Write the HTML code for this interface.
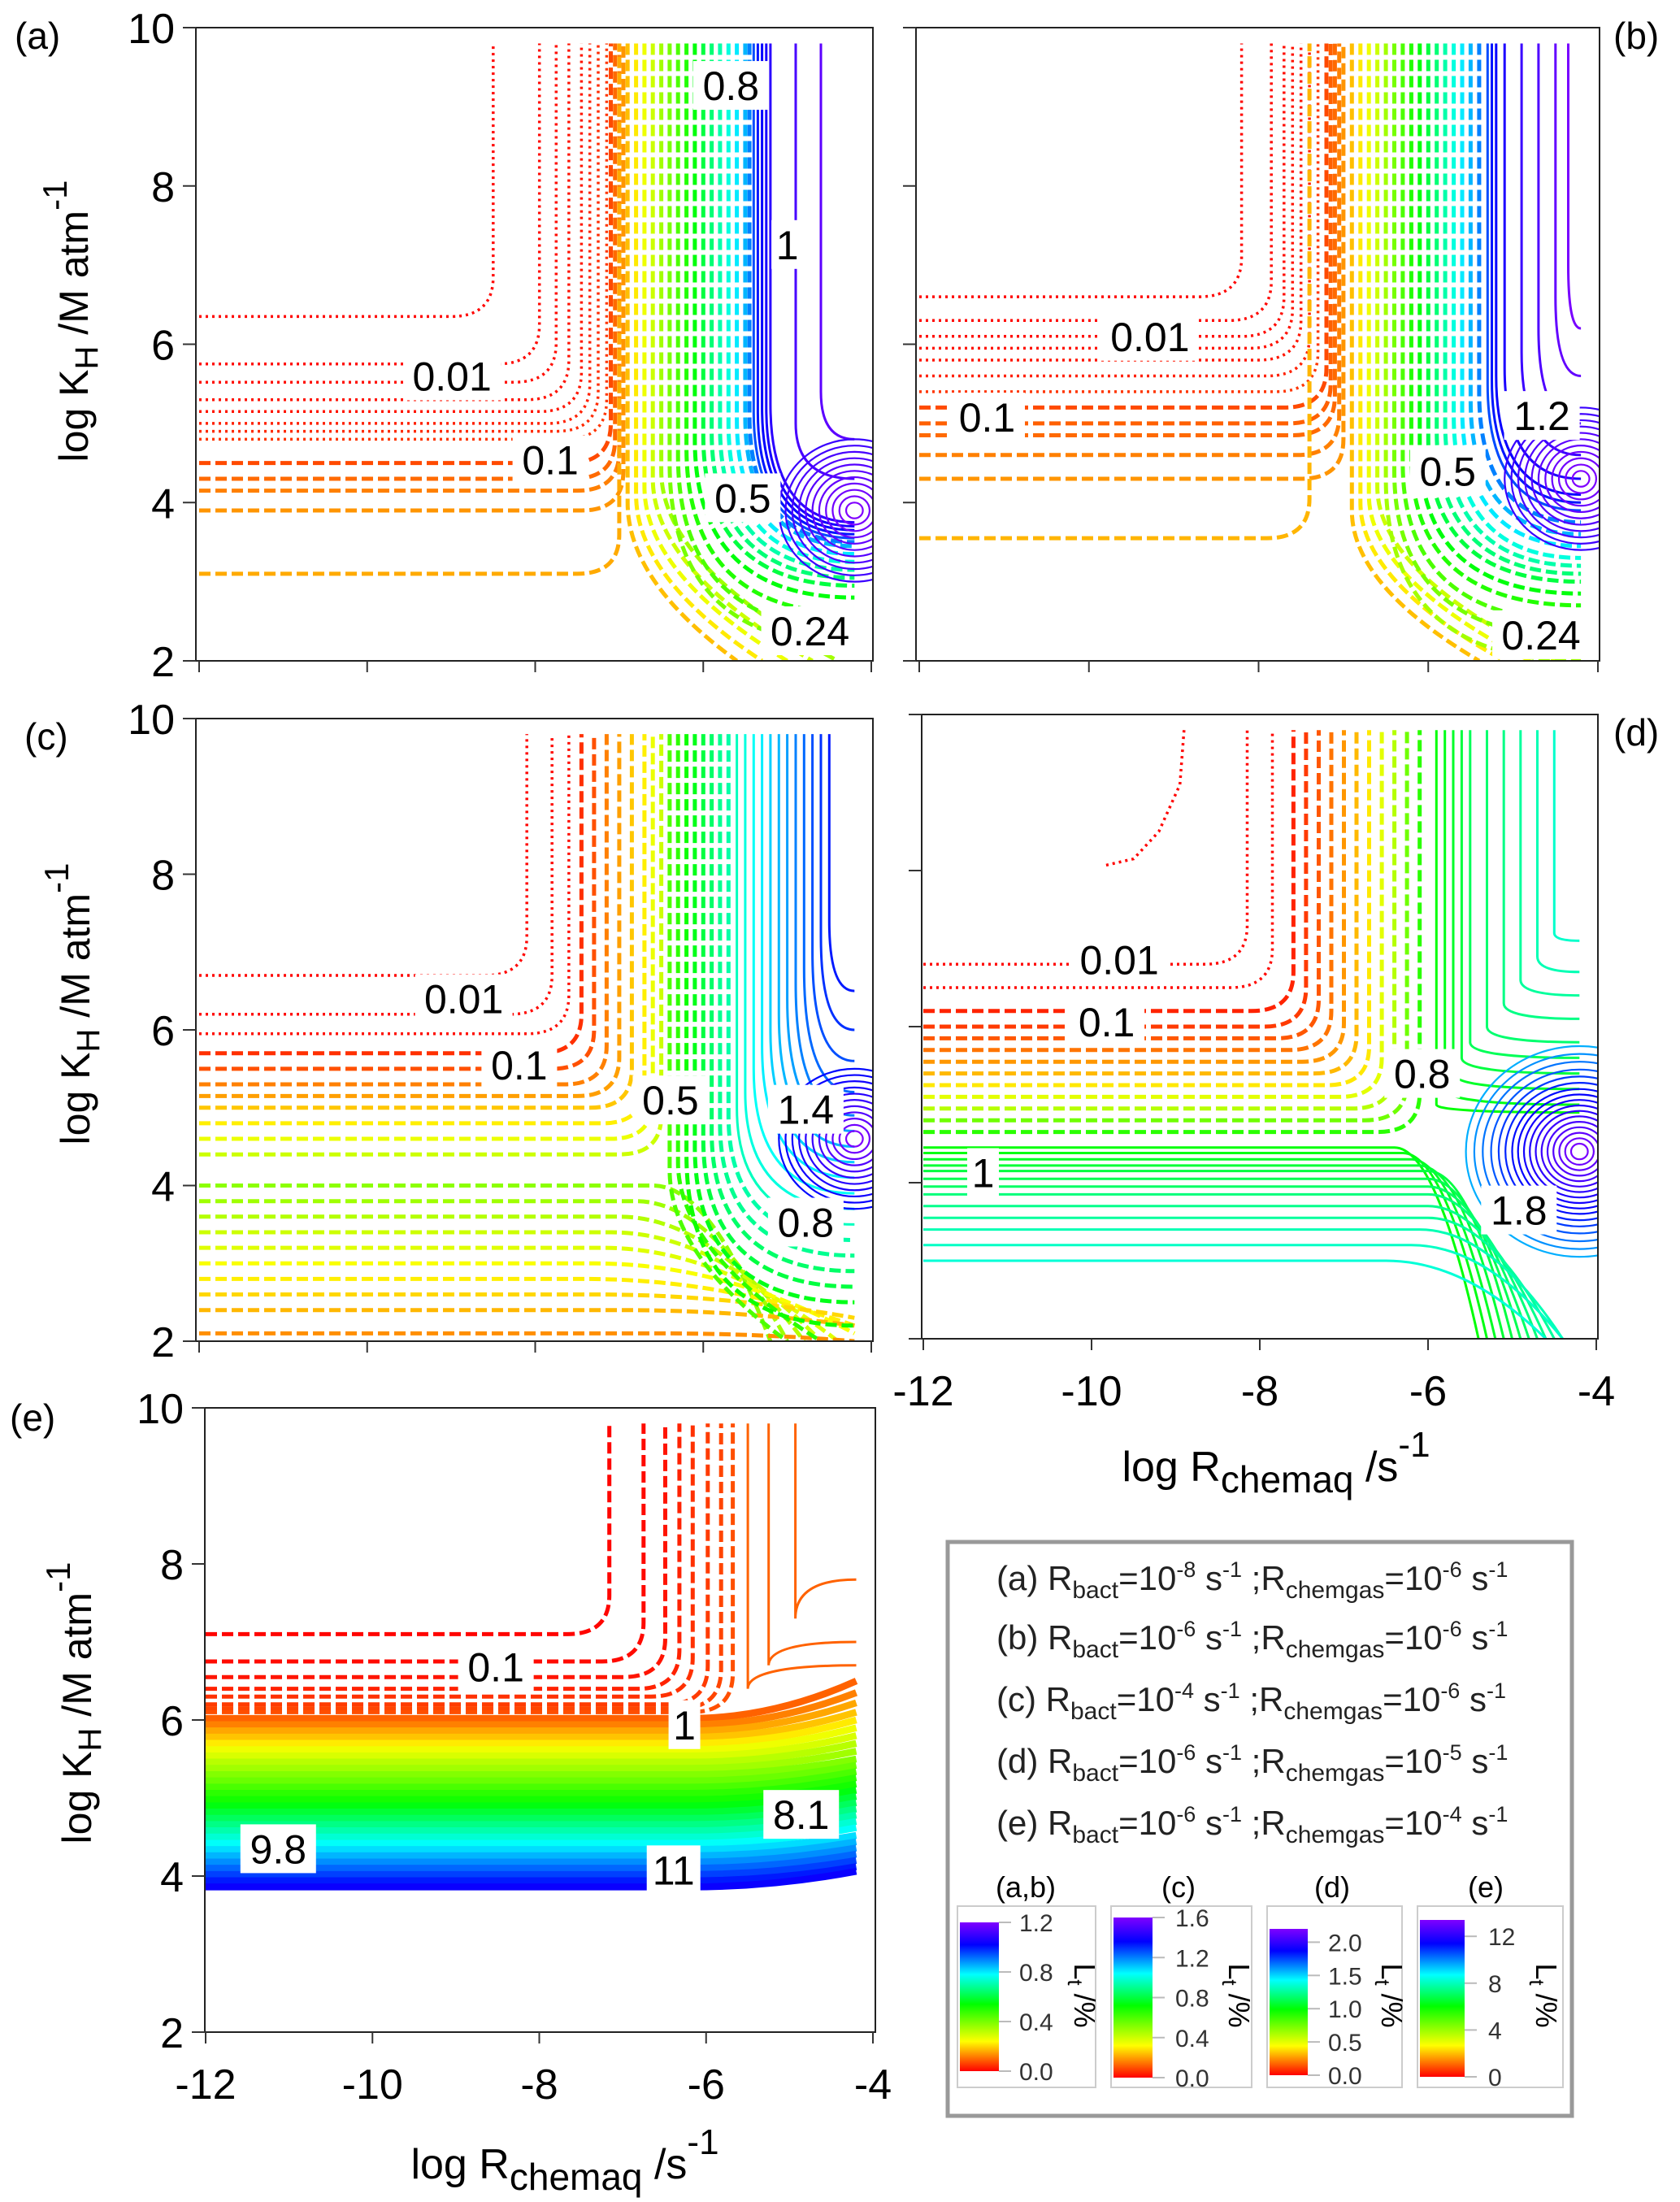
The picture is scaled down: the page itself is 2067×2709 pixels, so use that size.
<!DOCTYPE html>
<html><head><meta charset="utf-8">
<style>
html,body{margin:0;padding:0;background:#fff;}
svg{display:block;font-family:"Liberation Sans",Arial,sans-serif;}
</style></head>
<body>
<svg id="fig" width="2067" height="2709" viewBox="0 0 2067 2709" xmlns="http://www.w3.org/2000/svg">
<defs>
<linearGradient id="cmap" x1="0" y1="1" x2="0" y2="0">
<stop offset="0" stop-color="#ff0000"/><stop offset="0.2" stop-color="#ffff00"/><stop offset="0.45" stop-color="#00ff00"/><stop offset="0.65" stop-color="#00ffff"/><stop offset="0.85" stop-color="#0000ff"/><stop offset="1" stop-color="#8000ff"/>
</linearGradient>
</defs>
</svg>
<script>
// ---------------- data (log units) ----------------
// panel (a)
const aLh=[6.35,5.75,5.52,5.3,5.15,5.0,4.9,4.8,4.5,4.3,4.15,3.9,3.1];
const aLr=[-8.5,-7.95,-7.75,-7.6,-7.45,-7.35,-7.25,-7.15,-7.1,-7.05,-7.0,-6.95,-7.0];
const aLv=[0.003,0.006,0.01,0.015,0.02,0.03,0.04,0.05,0.07,0.1,0.12,0.14,0.16];
const aVx=[-6.9,-6.8,-6.7,-6.6,-6.5,-6.4,-6.3,-6.2,-6.1,-6.0,-5.9,-5.8,-5.7,-5.6,-5.5,-5.45,-5.4,-5.35,-5.3,-5.25,-5.2,-4.9,-4.6];
const aVb=[4.0,4.1,4.2,4.3,4.4,4.5,4.6,4.7,4.8,4.85,4.9,4.95,5.0,5.05,5.1,5.1,5.15,5.15,5.2,5.2,5.25,5.0,5.4];
const aVex=[-5.6,-5.3,-5.0,-4.7,-4.4,-4.2,-4.2,-4.2,-4.2,-4.2,-4.2,-4.2,-4.2,-4.2,-4.2,-4.2,-4.2,-4.2,-4.2,-4.2,-4.2,-4.2,-4.2];
const aVey=[2,2,2,2,2,2.2,2.4,2.6,2.8,2.95,3.05,3.15,3.25,3.35,3.45,3.5,3.55,3.6,3.65,3.7,3.75,4.3,4.8];
const aVv=[0.18,0.22,0.26,0.3,0.35,0.4,0.45,0.5,0.55,0.6,0.65,0.7,0.75,0.8,0.85,0.9,0.95,1.0,1.02,1.05,1.08,1.12,1.15];
const aRr=[0.1,0.18,0.26,0.34,0.42,0.5,0.58,0.66,0.74,0.82,0.9];
const aRv=[1.2,1.19,1.18,1.17,1.16,1.15,1.14,1.13,1.12,1.11,1.1];
const aRc=[-4.2,3.9];
const aLabT=["0.8","1","0.01","0.1","0.5","0.24"];
const aLabX=[-5.67,-5.0,-8.99,-7.82,-5.53,-4.73];
const aLabY=[9.27,7.26,5.6,4.54,4.06,2.38];
// panel (b)
const bLh=[6.6,6.3,6.1,5.95,5.8,5.6,5.4,5.2,5.0,4.85,4.6,4.3,3.55];
const bLr=[-8.2,-7.85,-7.7,-7.6,-7.5,-7.4,-7.3,-7.2,-7.15,-7.1,-7.05,-7.0,-7.4];
const bLv=[0.003,0.006,0.01,0.015,0.02,0.03,0.05,0.07,0.09,0.1,0.12,0.14,0.17];
const bVx=[-6.9,-6.8,-6.7,-6.6,-6.5,-6.4,-6.3,-6.2,-6.1,-6.0,-5.9,-5.8,-5.7,-5.6,-5.5,-5.4,-5.3,-5.25,-5.2,-5.1,-4.9,-4.7,-4.5,-4.35];
const bVb=[3.9,4.0,4.1,4.2,4.3,4.4,4.5,4.6,4.7,4.8,4.9,5.0,5.1,5.2,5.3,5.4,5.5,5.55,5.6,5.7,5.9,6.2,6.6,7.0];
const bVex=[-5.4,-5.1,-4.8,-4.5,-4.2,-4.2,-4.2,-4.2,-4.2,-4.2,-4.2,-4.2,-4.2,-4.2,-4.2,-4.2,-4.2,-4.2,-4.2,-4.2,-4.2,-4.2,-4.2,-4.2];
const bVey=[2,2,2,2,2,2.3,2.5,2.7,2.85,3.0,3.1,3.2,3.3,3.45,3.6,3.75,3.9,4.0,4.1,4.3,4.6,5.0,5.6,6.2];
const bVv=[0.18,0.22,0.26,0.3,0.35,0.4,0.45,0.5,0.55,0.6,0.65,0.7,0.75,0.8,0.85,0.9,0.95,1.0,1.03,1.06,1.1,1.13,1.16,1.19];
const bRr=[0.1,0.18,0.26,0.34,0.42,0.5,0.58,0.66,0.74,0.82,0.9];
const bRv=[1.2,1.19,1.18,1.17,1.16,1.15,1.14,1.13,1.12,1.11,1.1];
const bRc=[-4.2,4.3];
const bLabT=["0.01","0.1","1.2","0.5","0.24"];
const bLabX=[-9.28,-11.2,-4.66,-5.77,-4.67];
const bLabY=[6.1,5.08,5.1,4.4,2.33];
// panel (c)
const cLh=[6.7,6.2,5.95,5.7,5.5,5.3,5.15,5.0,4.8,4.6,4.4];
const cLr=[-8.1,-7.8,-7.6,-7.45,-7.3,-7.15,-7.0,-6.85,-6.7,-6.6,-6.5];
const cLv=[0.003,0.008,0.015,0.06,0.1,0.16,0.2,0.25,0.3,0.35,0.4];
const cHh=[4.0,3.8,3.6,3.4,3.2,3.0,2.8,2.6,2.4,2.1];
const cHr=[-6.6,-6.8,-7.0,-7.1,-7.2,-7.3,-7.4,-7.3,-7.0,-6.5];
const cHex=[-5.2,-5.0,-4.8,-4.6,-4.4,-4.2,-4.2,-4.2,-4.2,-4.2];
const cHey=[2,2,2,2,2,2.1,2.2,2.3,2.2,2.0];
const cHv=[0.5,0.47,0.44,0.4,0.37,0.33,0.3,0.27,0.23,0.18];
const cVx=[-6.4,-6.3,-6.2,-6.1,-6.0,-5.9,-5.8,-5.7,-5.6,-5.5,-5.4,-5.3,-5.2,-5.1,-5.0,-4.9,-4.8,-4.7,-4.6,-4.5];
const cVb=[4.2,4.3,4.4,4.5,4.6,4.7,4.8,4.9,5.0,5.2,5.5,5.8,6.0,6.2,6.4,6.6,6.8,7.0,7.2,7.4];
const cVex=[-5.0,-4.6,-4.2,-4.2,-4.2,-4.2,-4.2,-4.2,-4.2,-4.2,-4.2,-4.2,-4.2,-4.2,-4.2,-4.2,-4.2,-4.2,-4.2,-4.2];
const cVey=[2,2,2.2,2.5,2.7,2.9,3.1,3.3,3.5,3.7,3.9,4.1,4.3,4.5,4.7,4.9,5.2,5.6,6.0,6.5];
const cVv=[0.6,0.65,0.7,0.75,0.8,0.85,0.9,0.93,0.96,1.0,1.03,1.06,1.1,1.13,1.16,1.2,1.23,1.26,1.3,1.33];
const cRr=[0.1,0.18,0.26,0.34,0.42,0.5,0.58,0.66,0.74,0.82,0.9];
const cRv=[1.6,1.57,1.54,1.51,1.49,1.46,1.43,1.41,1.39,1.37,1.35];
const cRc=[-4.2,4.6];
const cLabT=["0.01","0.1","0.5","1.4","0.8"];
const cLabX=[-8.85,-8.19,-6.39,-4.78,-4.78];
const cLabY=[6.4,5.55,5.1,4.98,3.53];
// panel (d)
const dLh=[6.8,6.5,6.2,6.0,5.85,5.7,5.55,5.4,5.25,5.1,4.95,4.8,4.65];
const dLr=[-8.15,-7.85,-7.6,-7.45,-7.3,-7.15,-7.0,-6.85,-6.7,-6.55,-6.4,-6.25,-6.1];
const dLv=[0.003,0.01,0.06,0.1,0.15,0.2,0.26,0.32,0.4,0.5,0.6,0.75,0.9];
const dHh=[4.45,4.38,4.3,4.22,4.15,4.05,3.95,3.85,3.7,3.55,3.4,3.2,3.0];
const dHr=[-6.4,-6.3,-6.2,-6.1,-6.0,-6.0,-6.0,-6.0,-6.0,-6.0,-6.1,-6.2,-6.5];
const dHex=[-5.4,-5.3,-5.2,-5.1,-5.0,-4.9,-4.8,-4.7,-4.6,-4.5,-4.4,-4.4,-4.6];
const dHey=[2,2,2,2,2,2,2,2,2,2,2,2,2];
const dHv=[1.0,1.02,1.05,1.08,1.1,1.13,1.16,1.2,1.23,1.26,1.3,1.33,1.36];
const dVx=[-5.9,-5.8,-5.7,-5.6,-5.5,-5.3,-5.1,-4.9,-4.7,-4.5];
const dVb=[5.0,5.2,5.4,5.6,5.8,6.0,6.3,6.6,6.9,7.2];
const dVex=[-4.2,-4.2,-4.2,-4.2,-4.2,-4.2,-4.2,-4.2,-4.2,-4.2];
const dVey=[4.9,5.0,5.2,5.4,5.6,5.8,6.1,6.4,6.7,7.1];
const dVv=[1.0,1.03,1.06,1.1,1.14,1.18,1.22,1.26,1.3,1.34];
const dRr=[0.1,0.17,0.24,0.31,0.38,0.45,0.52,0.59,0.66,0.73,0.8,0.88,0.96,1.05,1.15,1.25,1.35];
const dRv=[2.18,2.15,2.12,2.08,2.05,2.02,1.98,1.95,1.92,1.88,1.85,1.81,1.77,1.72,1.67,1.62,1.57];
const dRc=[-4.2,4.4];
const dArcX=[-8.9,-8.95,-9.2,-9.5,-9.86];
const dArcY=[9.8,9.1,8.5,8.15,8.06];
const dLabT=["0.01","0.1","0.8","1","1.8"];
const dLabX=[-9.67,-9.82,-6.07,-11.29,-4.92];
const dLabY=[6.86,6.06,5.4,4.13,3.65];
// panel (e)
const eLh=[7.1,6.75,6.55,6.4,6.3,6.2,6.15,6.1];
const eLr=[-7.16,-6.75,-6.49,-6.32,-6.16,-5.98,-5.82,-5.68];
const eLv=[0.05,0.1,0.2,0.35,0.5,0.6,0.7,0.8];
const eVx=[-5.5,-5.25,-4.93];
const eVb=[6.4,6.7,7.3];
const eVex=[-4.2,-4.2,-4.2];
const eVey=[6.7,7.0,7.8];
const eVv=[1.0,1.0,1.0];
const eHh=[6.02,5.94,5.86,5.78,5.70,5.62,5.54,5.46,5.38,5.30,5.22,5.14,5.06,4.98,4.90,4.82,4.74,4.66,4.58,4.50,4.42,4.34,4.26,4.18,4.10,4.02,3.94,3.86];
const eHv=[1.0,1.3,1.7,2.0,2.4,2.8,3.1,3.5,3.8,4.2,4.5,4.9,5.3,5.6,6.0,6.4,6.8,7.2,7.6,8.0,8.4,8.8,9.2,9.6,10.0,10.4,10.8,11.2];
const eHe=[6.5,6.35,6.22,6.1,6.0,5.9,5.8,5.7,5.6,5.5,5.42,5.34,5.26,5.18,5.1,5.02,4.94,4.86,4.78,4.7,4.62,4.52,4.44,4.36,4.28,4.2,4.12,4.06];
const eLabT=["0.1","1","8.1","9.8","11"];
const eLabX=[-8.52,-6.26,-4.86,-11.13,-6.39];
const eLabY=[6.68,5.94,4.79,4.35,4.08];
// axes
const yTicks=[2,4,6,8,10];
const xTicks=[-12,-10,-8,-6,-4];
const cbTicksAB=[0.0,0.4,0.8,1.2];
const cbTicksC=[0.0,0.4,0.8,1.2,1.6];
const cbTicksD=[0.0,0.5,1.0,1.5,2.0];
const cbTicksE=[0,4,8,12];

const NS="http://www.w3.org/2000/svg";
const svg=document.getElementById('fig');
function el(tag,parent){const e=document.createElementNS(NS,tag);(parent||svg).appendChild(e);return e;}

const stops=[[0,0],[0.2,60],[0.45,120],[0.65,180],[0.85,240],[1,270]];
function col(v,max){let t=Math.max(0,Math.min(1,v/max));for(let i=1;i<stops.length;i++){if(t<=stops[i][0]){const a=stops[i-1],b=stops[i];const h=a[1]+(b[1]-a[1])*(t-a[0])/(b[0]-a[0]);return 'hsl('+h.toFixed(1)+',100%,50%)';}}return 'hsl(270,100%,50%)';}

function panel(cfg){
  const g=el('g');
  
  
  const sx=x=>cfg.x0+(x+12)/8*(cfg.x1-cfg.x0);
  const sy=y=>cfg.yb-(y-2)/8*(cfg.yb-cfg.yt);
  const clip=el('clipPath',g);clip.setAttribute('id','clip-'+cfg.id);
  const cr=el('rect',clip);cr.setAttribute('x',cfg.fx0);cr.setAttribute('y',cfg.yt);cr.setAttribute('width',cfg.fx1-cfg.fx0);cr.setAttribute('height',cfg.yb-cfg.yt);
  const cg=el('g',g);cg.setAttribute('clip-path','url(#clip-'+cfg.id+')');
  
  
  function styl(p,v){p.setAttribute('fill','none');p.setAttribute('stroke',col(v,cfg.max));
    if(v<cfg.dot){p.setAttribute('stroke-width','3.5');p.setAttribute('stroke-dasharray','3 5');}
    else if(v<cfg.dash){p.setAttribute('stroke-width','5');p.setAttribute('stroke-dasharray','14 6');}
    else{p.setAttribute('stroke-width',cfg.solidW||'3');}}
  const P=(x,y)=>sx(x).toFixed(1)+' '+sy(y).toFixed(1);
  const c=0.5;
  (cfg.Lh||[]).forEach((h,i)=>{const r=cfg.Lr[i];const p=el('path',cg);
    p.setAttribute('d','M'+P(-12,h)+' L'+P(r-c,h)+' Q'+P(r,h)+' '+P(r,h+c)+' L'+P(r,9.8));
    styl(p,cfg.Lv[i]);
    
    });
  (cfg.Hh||[]).forEach((h,i)=>{const r=cfg.Hr[i],ex=cfg.Hex[i],ey=cfg.Hey[i];const p=el('path',cg);
    p.setAttribute('d','M'+P(-12,h)+' L'+P(r,h)+' Q'+P((r+ex)/2,h)+' '+P(ex,ey));
    styl(p,cfg.Hv[i]);
    
    });
  (cfg.Vx||[]).forEach((x,i)=>{const b=cfg.Vb[i],ex=cfg.Vex[i],ey=cfg.Vey[i];const p=el('path',cg);
    const cy=ex>=-4.25?ey:(b+ey)/2;
    p.setAttribute('d','M'+P(x,9.8)+' L'+P(x,b)+' Q'+P(x,cy)+' '+P(ex,ey));
    styl(p,cfg.Vv[i]);
    
    });
  (cfg.Rr||[]).forEach((r,i)=>{const e=el('ellipse',cg);
    e.setAttribute('cx',sx(cfg.Rc[0]));e.setAttribute('cy',sy(cfg.Rc[1]));
    e.setAttribute('rx',(sx(r)-sx(0)).toFixed(1));e.setAttribute('ry',(sy(0)-sy(r)).toFixed(1));
    e.setAttribute('fill','none');e.setAttribute('stroke',col(cfg.Rv[i],cfg.max));e.setAttribute('stroke-width','2.2');
    
    });
  if(cfg.arcX){const p=el('path',cg);p.setAttribute('d','M'+cfg.arcX.map((x,i)=>P(x,cfg.arcY[i])).join(' L'));styl(p,0.003);
    
    }
  (cfg.Hb||[]).forEach((h,i)=>{const p=el('path',cg);
    p.setAttribute('d','M'+P(-12,h)+' L'+P(-6.2,h)+' Q'+P(-5.2,h)+' '+P(-4.2,cfg.He[i]));
    p.setAttribute('fill','none');p.setAttribute('stroke',col(cfg.Hbv[i],cfg.max));p.setAttribute('stroke-width','8.5');
    
    });
  cfg.labT.forEach((t,i)=>{const x=sx(cfg.labX[i]),y=sy(cfg.labY[i]);
    const w=t.length*27+12;
    const r=el('rect',g);r.setAttribute('x',x-w/2);r.setAttribute('y',y-30);r.setAttribute('width',w);r.setAttribute('height',60);r.setAttribute('fill','#fff');
    
    
    const tx=el('text',g);tx.setAttribute('x',x);tx.setAttribute('y',y+18);tx.setAttribute('text-anchor','middle');tx.setAttribute('font-size','50');tx.textContent=t;
    
    });
  const fr=el('rect',g);fr.setAttribute('x',cfg.fx0);fr.setAttribute('y',cfg.yt);fr.setAttribute('width',cfg.fx1-cfg.fx0);fr.setAttribute('height',cfg.yb-cfg.yt);
  fr.setAttribute('fill','none');fr.setAttribute('stroke','#222');fr.setAttribute('stroke-width','2');
  
  
  yTicks.forEach(v=>{const tk=el('line',g);tk.setAttribute('x1',cfg.fx0-16);tk.setAttribute('x2',cfg.fx0);tk.setAttribute('y1',sy(v));tk.setAttribute('y2',sy(v));tk.setAttribute('stroke','#333');tk.setAttribute('stroke-width','2');
    
    
    if(cfg.ylab){const t=el('text',g);t.setAttribute('x',cfg.fx0-26);t.setAttribute('y',sy(v)+19);t.setAttribute('text-anchor','end');t.setAttribute('font-size','52');t.textContent=String(v);
      
      }});
  xTicks.forEach(v=>{const tk=el('line',g);tk.setAttribute('x1',sx(v));tk.setAttribute('x2',sx(v));tk.setAttribute('y1',cfg.yb);tk.setAttribute('y2',cfg.yb+14);tk.setAttribute('stroke','#333');tk.setAttribute('stroke-width','2');
    
    
    if(cfg.xlab){const t=el('text',g);t.setAttribute('x',sx(v));t.setAttribute('y',cfg.yb+82);t.setAttribute('text-anchor','middle');t.setAttribute('font-size','52');t.textContent=String(v);
      
      }});
  const pl=el('text',g);pl.setAttribute('x',cfg.plx);pl.setAttribute('y',cfg.ply);pl.setAttribute('font-size','46');pl.textContent='('+cfg.id+')';
  
  
}

panel({id:'a',x0:245,x1:1072,fx0:241,fx1:1074,yt:34,yb:813,max:1.2,dot:0.06,dash:0.95,ylab:true,xlab:false,plx:18,ply:60,
  Lh:aLh,Lr:aLr,Lv:aLv,Vx:aVx,Vb:aVb,Vex:aVex,Vey:aVey,Vv:aVv,Rr:aRr,Rv:aRv,Rc:aRc,labT:aLabT,labX:aLabX,labY:aLabY});
panel({id:'b',x0:1131,x1:1966,fx0:1127,fx1:1968,yt:34,yb:813,max:1.2,dot:0.06,dash:0.95,ylab:false,xlab:false,plx:1985,ply:60,
  Lh:bLh,Lr:bLr,Lv:bLv,Vx:bVx,Vb:bVb,Vex:bVex,Vey:bVey,Vv:bVv,Rr:bRr,Rv:bRv,Rc:bRc,labT:bLabT,labX:bLabX,labY:bLabY});
panel({id:'c',x0:245,x1:1072,fx0:241,fx1:1074,yt:884,yb:1650,max:1.6,dot:0.03,dash:0.95,ylab:true,xlab:false,plx:30,ply:922,
  Lh:cLh,Lr:cLr,Lv:cLv,Hh:cHh,Hr:cHr,Hex:cHex,Hey:cHey,Hv:cHv,Vx:cVx,Vb:cVb,Vex:cVex,Vey:cVey,Vv:cVv,Rr:cRr,Rv:cRv,Rc:cRc,labT:cLabT,labX:cLabX,labY:cLabY});
panel({id:'d',x0:1136,x1:1964,fx0:1134,fx1:1966,yt:879,yb:1647,max:2.2,dot:0.05,dash:0.95,ylab:false,xlab:true,plx:1985,ply:917,
  Lh:dLh,Lr:dLr,Lv:dLv,Hh:dHh,Hr:dHr,Hex:dHex,Hey:dHey,Hv:dHv,Vx:dVx,Vb:dVb,Vex:dVex,Vey:dVey,Vv:dVv,Rr:dRr,Rv:dRv,Rc:dRc,arcX:dArcX,arcY:dArcY,labT:dLabT,labX:dLabX,labY:dLabY});
panel({id:'e',x0:253,x1:1074,fx0:252,fx1:1077,yt:1732,yb:2500,max:13,dot:0.0,dash:0.95,solidW:'3',ylab:true,xlab:true,plx:12,ply:1760,
  Lh:eLh,Lr:eLr,Lv:eLv,Vx:eVx,Vb:eVb,Vex:eVex,Vey:eVey,Vv:eVv,Hb:eHh,Hbv:eHv,He:eHe,labT:eLabT,labX:eLabX,labY:eLabY});

function ytitle(x,y,name){const t=el('text');t.setAttribute('transform','translate('+x+','+y+') rotate(-90)');t.setAttribute('text-anchor','middle');t.setAttribute('font-size','50');
  t.innerHTML='log K<tspan dy="12" font-size="40">H</tspan><tspan dy="-12"> /M atm</tspan><tspan dy="-26" font-size="42">-1</tspan>';
  
  }
ytitle(108,395,'y-axis-title-a');ytitle(110,1235,'y-axis-title-c');ytitle(112,2095,'y-axis-title-e');
function xtitle(x,y,name){const t=el('text');t.setAttribute('x',x);t.setAttribute('y',y);t.setAttribute('text-anchor','middle');t.setAttribute('font-size','52');
  t.innerHTML='log R<tspan dy="14" font-size="46">chemaq</tspan><tspan dy="-14"> /s</tspan><tspan dy="-30" font-size="44">-1</tspan>';
  
  }
xtitle(1570,1822,'x-axis-title-d');xtitle(695,2680,'x-axis-title-e');

const lg=el('rect');lg.setAttribute('x',1166);lg.setAttribute('y',1897);lg.setAttribute('width',768);lg.setAttribute('height',706);lg.setAttribute('fill','#fff');lg.setAttribute('stroke','#999');lg.setAttribute('stroke-width','5');


const legL=['(a)','(b)','(c)','(d)','(e)'];
const legB=['-8','-6','-4','-6','-6'];
const legG=['-6','-6','-6','-5','-4'];
const legY=[1956,2029,2105,2181,2257];
legL.forEach((l,i)=>{const t=el('text');t.setAttribute('x',1226);t.setAttribute('y',legY[i]);t.setAttribute('font-size','42');t.setAttribute('fill','#222');
  t.innerHTML=l+' R<tspan dy="10" font-size="30">bact</tspan><tspan dy="-10">=10</tspan><tspan dy="-16" font-size="27">'+legB[i]+'</tspan><tspan dy="16"> s</tspan><tspan dy="-16" font-size="27">-1</tspan><tspan dy="16"> ;R</tspan><tspan dy="10" font-size="30">chemgas</tspan><tspan dy="-10">=10</tspan><tspan dy="-16" font-size="27">'+legG[i]+'</tspan><tspan dy="16"> s</tspan><tspan dy="-16" font-size="27">-1</tspan>';
  
  });

function cbar(title,tx,bx,bw,by0,by1,ticks,max,labx,tickY,lx){
  const h=el('text');h.setAttribute('x',tx);h.setAttribute('y',2334);h.setAttribute('text-anchor','middle');h.setAttribute('font-size','36');h.textContent=title;
  
  
  const box=el('rect');box.setAttribute('x',bx[0]);box.setAttribute('y',2345);box.setAttribute('width',bx[1]-bx[0]);box.setAttribute('height',223);box.setAttribute('fill','#fff');box.setAttribute('stroke','#ccc');box.setAttribute('stroke-width','2');
  
  
  const r=el('rect');r.setAttribute('x',bx[0]+3);r.setAttribute('y',by0);r.setAttribute('width',bw);r.setAttribute('height',by1-by0);r.setAttribute('fill','url(#cmap)');
  
  
  ticks.forEach(v=>{const y=by1-(v/max)*(by1-by0);
    const ln=el('line');ln.setAttribute('x1',bx[0]+3+bw);ln.setAttribute('x2',bx[0]+bw+18);ln.setAttribute('y1',y);ln.setAttribute('y2',y);ln.setAttribute('stroke','#bbb');ln.setAttribute('stroke-width','2');
    
    
    const t=el('text');t.setAttribute('x',labx);t.setAttribute('y',y+11);t.setAttribute('font-size','30');t.setAttribute('fill','#333');t.textContent=(max>10?String(v):v.toFixed(1));
    
    });
  const l=el('text');l.setAttribute('transform','translate('+lx+',2455) rotate(90)');l.setAttribute('text-anchor','middle');l.setAttribute('font-size','36');
  l.innerHTML='L<tspan dy="8" font-size="26">t</tspan><tspan dy="-8"> /%</tspan>';
  
  
}
cbar('(a,b)',1262,[1178,1348],48,2365,2548,cbTicksAB,1.2,1254,0,1322);
cbar('(c)',1450,[1367,1540],48,2359,2556,cbTicksC,1.6,1446,0,1512);
cbar('(d)',1639,[1559,1725],47,2373,2553,cbTicksD,2.2,1634,0,1700);
cbar('(e)',1828,[1744,1923],55,2362,2555,cbTicksE,13.4,1831,0,1890);
</script>
</body></html>
